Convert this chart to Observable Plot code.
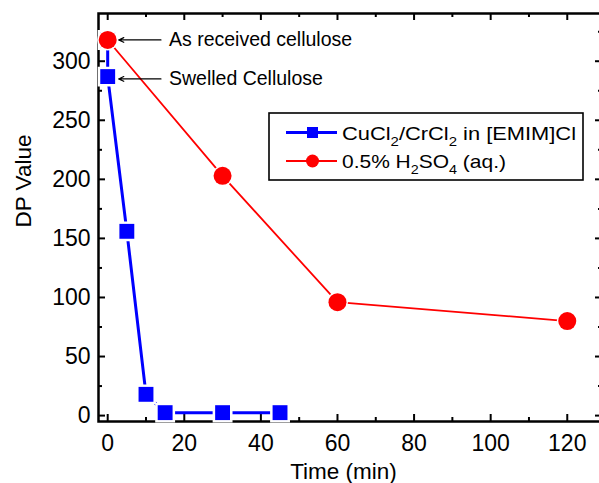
<!DOCTYPE html>
<html><head><meta charset="utf-8">
<script src="https://cdn.jsdelivr.net/npm/d3@7"></script>
<script src="https://cdn.jsdelivr.net/npm/@observablehq/plot@0.6"></script>
<style>
body{margin:0;background:#fff;}
#chart svg{font-family:"Liberation Sans",Arial,sans-serif;background:#fff;}
</style></head><body><div id="chart"></div>
<script>
// ---- data ----
const cuTime = [0, 0, 5, 10, 15, 30, 45];
const cuDP = [318, 287, 156, 18, 2.5, 2.5, 2.5];
const acidTime = [0, 30, 60, 120];
const acidDP = [318, 203, 96, 80];
const seriesNames = ["CuCl2/CrCl2 in [EMIM]Cl", "0.5% H2SO4 (aq.)"];
const xMajorTicks = [0, 20, 40, 60, 80, 100, 120];
const xMinorTicks = [10, 30, 50, 70, 90, 110, 130];
const yMajorTicks = [0, 50, 100, 150, 200, 250, 300];
const yMinorTicks = [25, 75, 125, 175, 225, 275, 325];
const xTitle = "Time (min)";
const yTitle = "DP Value";
const annotationLabels = ["As received cellulose", "Swelled Cellulose"];
const annotationTime = [0, 0];
const annotationDP = [318, 285];
const annotationLabelTime = [16, 16];

const cu = cuTime.map((t, i) => ({t, v: cuDP[i]}));
const acid = acidTime.map((t, i) => ({t, v: acidDP[i]}));
const notes = annotationLabels.map((s, i) => ({s, t: annotationTime[i], v: annotationDP[i], lt: annotationLabelTime[i]}));

const BLUE = "#0000ff", RED = "#ff0000";
const W = 599, H = 483, ML = 98, MR = -3, MT = 13, MB = 62;
const FW = W - ML - MR, FH = H - MT - MB;
const tk = {stroke: "black", strokeWidth: 2};
const xTicks = (data, len) => [
  Plot.tickX(data, {x: d => d, insetTop: FH - len, ...tk}),
  Plot.tickX(data, {x: d => d, insetBottom: FH - len, ...tk})
];
const yTicks = (data, len) => [
  Plot.tickY(data, {y: d => d, insetRight: FW - len, ...tk}),
  Plot.tickY(data, {y: d => d, insetLeft: FW - len, ...tk})
];

const chart = Plot.plot({
  width: W, height: H,
  marginLeft: ML, marginRight: MR, marginTop: MT, marginBottom: MB,
  x: {domain: [-2.4, 129.2]},
  y: {domain: [-5, 340.4]},
  style: {fontFamily: "'Liberation Sans', Arial, sans-serif", fontSize: "22px", color: "black", background: "white"},
  marks: [
    ...xTicks(xMajorTicks, 7),
    ...xTicks(xMinorTicks, 4),
    ...yTicks(yMajorTicks, 7),
    ...yTicks(yMinorTicks, 4),
    Plot.axisX(xMajorTicks, {anchor: "bottom", tickSize: 0, tickPadding: 13, label: null, fontSize: 23}),
    Plot.axisY(yMajorTicks, {anchor: "left", tickSize: 0, tickPadding: 8, label: null, fontSize: 23}),
    Plot.text([xTitle], {frameAnchor: "bottom", dx: -7, dy: 50, lineAnchor: "middle", fontSize: 22.5}),
    Plot.text([yTitle], {frameAnchor: "left", dx: -75, dy: 10, rotate: -90, lineAnchor: "middle", fontSize: 22.5}),
    Plot.frame({stroke: "black", strokeWidth: 2.5}),
    // series
    Plot.line(cu, {x: "t", y: "v", stroke: BLUE, strokeWidth: 3}),
    Plot.dot(cu, {x: "t", y: "v", symbol: "square", r: 8.4, fill: BLUE, stroke: "white", strokeWidth: 5, paintOrder: "stroke"}),
    Plot.line(acid, {x: "t", y: "v", stroke: RED, strokeWidth: 1.8}),
    Plot.dot(acid, {x: "t", y: "v", r: 9, fill: RED, stroke: "white", strokeWidth: 3, paintOrder: "stroke"}),
    // annotations
    Plot.arrow(notes, {x1: "lt", y1: "v", x2: "t", y2: "v", insetStart: 8, insetEnd: 11, stroke: "black", strokeWidth: 1.2, headLength: 7, headAngle: 50}),
    Plot.text(notes, {x: "lt", y: "v", text: "s", textAnchor: "start", lineAnchor: "middle", fontSize: 19.5})
  ]
});
document.getElementById("chart").append(chart);

// ---- legend (inside plot, top right) ----
const svg = d3.select(chart);
const lg = svg.append("g").attr("class", "legend").attr("text-anchor", "start");
lg.append("rect").attr("x", 269).attr("y", 113).attr("width", 314).attr("height", 67)
  .attr("fill", "white").attr("stroke", "black").attr("stroke-width", 1.6);
const rows = [
  {y: 132.5, color: BLUE, sw: 3, sym: "square", parts: [["CuCl"], ["2", 1], ["/CrCl"], ["2", 1], [" in [EMIM]Cl"]], len: 234},
  {y: 161, color: RED, sw: 2, sym: "circle", parts: [["0.5% H"], ["2", 1], ["SO"], ["4", 1], [" (aq.)"]], len: 164}
];
rows.forEach(r => {
  lg.append("line").attr("x1", 286).attr("x2", 337).attr("y1", r.y).attr("y2", r.y)
    .attr("stroke", r.color).attr("stroke-width", r.sw);
  if (r.sym === "square") {
    lg.append("rect").attr("x", 312.5 - 5.5).attr("y", r.y - 5.5).attr("width", 11).attr("height", 11).attr("fill", r.color);
  } else {
    lg.append("circle").attr("cx", 312.5).attr("cy", r.y).attr("r", 6.5).attr("fill", r.color);
  }
  const t = lg.append("text").attr("x", 342).attr("y", r.y + 7)
    .attr("font-size", 19).attr("fill", "black").attr("text-anchor", "start")
    .attr("textLength", r.len).attr("lengthAdjust", "spacingAndGlyphs");
  let shifted = false;
  r.parts.forEach(([s, sub]) => {
    const ts = t.append("tspan").text(s);
    if (sub && !shifted) { ts.attr("dy", 6).attr("font-size", 13); shifted = true; }
    else if (!sub && shifted) { ts.attr("dy", -6); shifted = false; }
  });
});
</script></body></html>
